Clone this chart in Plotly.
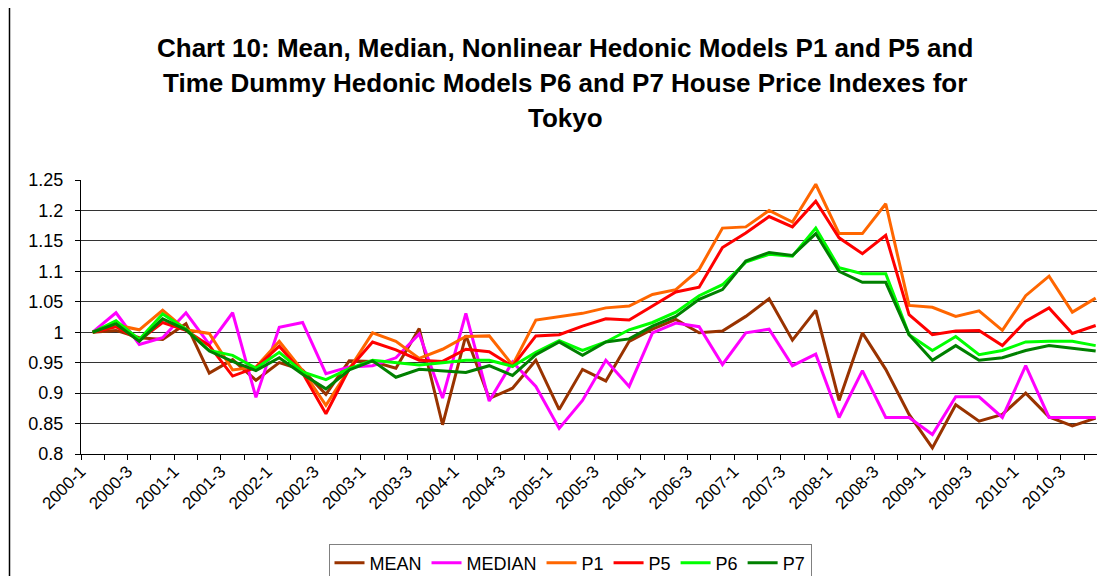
import plotly.graph_objects as go

quarters = [f"{y}-{q}" for y in range(2000, 2011) for q in range(1, 5)]
tick_labels = [q if i % 2 == 0 else "" for i, q in enumerate(quarters)]

mean = [1.0, 1.003, 0.991, 0.988, 1.014, 0.933, 0.955, 0.921, 0.95, 0.938,
        0.898, 0.953, 0.952, 0.941, 1.006, 0.848, 0.995, 0.891, 0.908, 0.954,
        0.873, 0.939, 0.92, 0.985, 1.005, 1.021, 0.999, 1.002, 1.026, 1.055,
        0.987, 1.036, 0.888, 0.999, 0.939, 0.865, 0.81, 0.881, 0.854, 0.865,
        0.9, 0.861, 0.846, 0.859]
median = [1.0, 1.032, 0.98, 0.991, 1.032, 0.98, 1.032, 0.893, 1.008, 1.016,
          0.932, 0.943, 0.945, 0.958, 0.997, 0.892, 1.031, 0.887, 0.951, 0.911,
          0.842, 0.888, 0.954, 0.911, 0.999, 1.015, 1.009, 0.947, 0.999, 1.005,
          0.945, 0.964, 0.86, 0.937, 0.86, 0.86, 0.832, 0.894, 0.894, 0.86,
          0.945, 0.86, 0.86, 0.86]
p1 = [1.0, 1.012, 1.004, 1.036, 1.004, 0.998, 0.938, 0.943, 0.985, 0.937,
      0.88, 0.94, 0.999, 0.985, 0.957, 0.972, 0.993, 0.994, 0.946, 1.02,
      1.026, 1.031, 1.04, 1.043, 1.062, 1.07, 1.103, 1.171, 1.173, 1.2,
      1.181, 1.243, 1.162, 1.162, 1.211, 1.044, 1.041, 1.026, 1.035, 1.003,
      1.06, 1.092, 1.033, 1.056]
p5 = [1.0, 1.009, 0.987, 1.016, 1.003, 0.978, 0.928, 0.942, 0.977, 0.933,
      0.866, 0.94, 0.984, 0.971, 0.954, 0.952, 0.972, 0.968, 0.944, 0.994,
      0.996, 1.01, 1.022, 1.02, 1.043, 1.066, 1.074, 1.139, 1.163, 1.19,
      1.173, 1.215, 1.155, 1.129, 1.159, 1.029, 0.996, 1.002, 1.003, 0.978,
      1.018, 1.04, 0.998, 1.011]
p6 = [1.0, 1.019, 0.988, 1.03, 1.005, 0.97, 0.962, 0.941, 0.967, 0.935,
      0.922, 0.94, 0.954, 0.95, 0.946, 0.95, 0.954, 0.954, 0.944, 0.967,
      0.986, 0.97, 0.984, 1.004, 1.016, 1.033, 1.06, 1.078, 1.115, 1.128,
      1.125, 1.171, 1.106, 1.096, 1.096, 0.996, 0.97, 0.993, 0.963, 0.97,
      0.984, 0.985, 0.985, 0.978]
p7 = [1.0, 1.014, 0.985, 1.022, 1.004, 0.969, 0.952, 0.937, 0.958, 0.931,
      0.907, 0.938, 0.953, 0.926, 0.939, 0.937, 0.934, 0.945, 0.929, 0.963,
      0.984, 0.962, 0.984, 0.989, 1.01, 1.026, 1.054, 1.07, 1.117, 1.131,
      1.126, 1.162, 1.1, 1.082, 1.082, 0.996, 0.954, 0.978, 0.954, 0.958,
      0.97, 0.978, 0.974, 0.969]

series = [("MEAN", mean, "#993300"), ("MEDIAN", median, "#FF00FF"),
          ("P1", p1, "#FF6600"), ("P5", p5, "#FF0000"),
          ("P6", p6, "#00FF00"), ("P7", p7, "#008000")]

FONT = "Liberation Sans, Arial, sans-serif"

fig = go.Figure()
for name, vals, color in series:
    fig.add_trace(go.Scatter(x=quarters, y=vals, name=name, mode="lines",
                             line=dict(color=color, width=3)))

# page has an 8px body margin; figure is sized to fill the rest of the window
OFF = 8
W, H = 1105 - OFF, 576 - OFF
L, R, T = 81 - OFF, 0, 180 - OFF
PLOT_BOTTOM = 454.3 - OFF
B = H - PLOT_BOTTOM
ph = H - T - B


def py(page_pix):
    return (PLOT_BOTTOM - (page_pix - OFF)) / ph


def px(page_pix):
    return (page_pix - OFF - L) / (W - L - R)


title_lines = ["Chart 10: Mean, Median, Nonlinear Hedonic Models P1 and P5 and",
               "Time Dummy Hedonic Models P6 and P7 House Price Indexes for",
               "Tokyo"]
annotations = []
for k, t in enumerate(title_lines):
    annotations.append(dict(text=f"<b>{t}</b>", x=px(565), y=py(48 + 35 * k),
                            xref="paper", yref="paper", showarrow=False,
                            xanchor="center", yanchor="middle",
                            font=dict(family=FONT, size=26, color="black")))

fig.update_layout(
    width=W, height=H,
    margin=dict(l=L, r=R, t=T, b=B, autoexpand=False),
    paper_bgcolor="white", plot_bgcolor="white",
    font=dict(family=FONT, size=18, color="black"),
    showlegend=True,
    legend=dict(orientation="h", x=px(570), xanchor="center", y=py(544),
                yanchor="top", bordercolor="#808080", borderwidth=1,
                font=dict(family=FONT, size=18, color="black"),
                itemwidth=30, tracegroupgap=0, bgcolor="white"),
    annotations=annotations,
    shapes=[dict(type="line", xref="paper", yref="paper",
                 x0=px(9.5), x1=px(9.5), y0=py(0), y1=py(590),
                 line=dict(color="black", width=1.5))],
)

fig.update_xaxes(type="category", range=[-0.5, 43.4],
                 tickmode="array", tickvals=quarters, ticktext=tick_labels,
                 tickangle=-45, ticks="outside", ticklen=5, tickcolor="black",
                 tickson="boundaries", ticklabelshift=-12,
                 showline=True, linecolor="black", linewidth=1,
                 showgrid=False, zeroline=False,
                 tickfont=dict(family=FONT, size=17, color="black"))
fig.update_yaxes(range=[0.8, 1.25], dtick=0.05, tick0=0.8,
                 ticks="outside", ticklen=5, tickcolor="black",
                 showline=True, linecolor="black", linewidth=1,
                 showgrid=True, gridcolor="#333333", gridwidth=1,
                 zeroline=False, ticklabelstandoff=8,
                 tickfont=dict(family=FONT, size=18, color="black"))

fig.write_html("out.html")
